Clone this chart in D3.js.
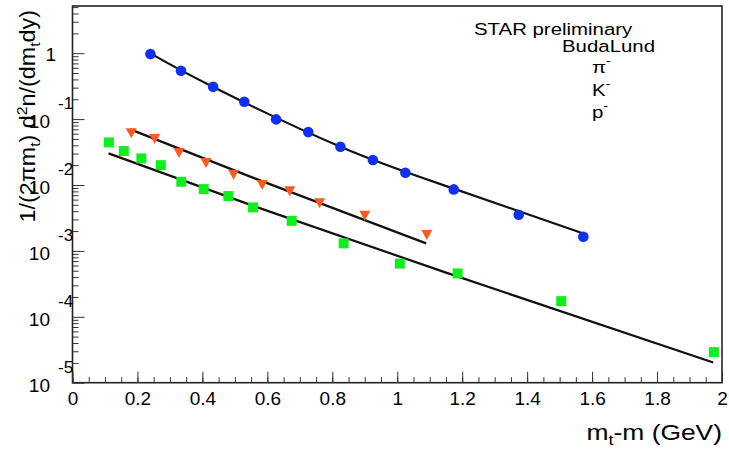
<!DOCTYPE html>
<html>
<head>
<meta charset="utf-8">
<script src="https://cdn.jsdelivr.net/npm/d3@7"></script>
<style>
  body { margin: 0; background: #fff; }
  svg { display: block; }
  text { font-family: "Liberation Sans", Arial, Helvetica, sans-serif; fill: #000; }
</style>
</head>
<body>
<div id="plothere"></div>
<script>
// pi- spectrum (blue circles)
var piX = [0.240, 0.334, 0.433, 0.529, 0.627, 0.726, 0.825, 0.925, 1.025, 1.174, 1.374, 1.573];
var piY = [0.97, 0.54, 0.31, 0.183, 0.099, 0.0635, 0.038, 0.0239, 0.0153, 0.00857, 0.00353, 0.00164];
// K- spectrum (orange triangles)
var kX = [0.181, 0.253, 0.328, 0.411, 0.496, 0.584, 0.669, 0.761, 0.900, 1.091];
var kY = [0.0619, 0.0509, 0.0312, 0.022, 0.0146, 0.0102, 0.00817, 0.00537, 0.00346, 0.00178];
// pbar spectrum (green squares)
var pX = [0.112, 0.158, 0.212, 0.272, 0.335, 0.404, 0.480, 0.556, 0.675, 0.835, 1.008, 1.186, 1.505, 1.975];
var pY = [0.0443, 0.0327, 0.0253, 0.020, 0.0112, 0.00867, 0.00679, 0.00457, 0.00286, 0.0013, 0.000641, 0.000456, 0.000173, 0.0000291];

// BudaLund fit curves
var piFitX = [0.240, 0.432, 0.825, 1.163, 1.573];
var piFitY = [0.993, 0.309, 0.038, 0.0092, 0.00184];
var kFitX = [0.178, 0.563, 1.089];
var kFitY = [0.0698, 0.0125, 0.0013];
var pFitX = [0.111, 0.563, 1.148, 1.973];
var pFitY = [0.0302, 0.0047, 0.000472, 0.0000202];

var xTicks = [0, 0.2, 0.4, 0.6, 0.8, 1, 1.2, 1.4, 1.6, 1.8, 2];
var xTickLabels = ["0", "0.2", "0.4", "0.6", "0.8", "1", "1.2", "1.4", "1.6", "1.8", "2"];
var yDecades = [-5, -4, -3, -2, -1, 0];
var legendLines = ["STAR preliminary", "BudaLund"];
var legendParticles = ["\u03c0", "K", "p"];

function zip(a, b) { return a.map(function(v, i) { return {x: v, y: b[i]}; }); }

var W = 729, H = 449;
var frame = {left: 72.5, right: 722, top: 6, bottom: 382.7};

var svg = d3.select("#plothere").append("svg")
  .attr("width", W).attr("height", H);

var x = d3.scaleLinear().domain([0, 2]).range([frame.left, frame.right]);
var y = d3.scaleLog().domain([1e-5, 5.2]).range([frame.bottom, frame.top]);

// frame
svg.append("rect")
  .attr("x", frame.left).attr("y", frame.top)
  .attr("width", frame.right - frame.left).attr("height", frame.bottom - frame.top)
  .attr("fill", "none").attr("stroke", "#222").attr("stroke-width", 1.6);

// x axis ticks (pointing up, inside)
var minorX = d3.range(0, 2.0001, 0.05);
svg.append("g")
  .attr("transform", "translate(0," + frame.bottom + ")")
  .call(d3.axisBottom(x).tickValues(minorX).tickSizeInner(-5.5).tickSizeOuter(0).tickFormat(""))
  .call(function(g) { g.select(".domain").remove(); g.selectAll("line").attr("stroke", "#333"); });
svg.append("g")
  .attr("transform", "translate(0," + frame.bottom + ")")
  .call(d3.axisBottom(x).tickValues(xTicks).tickSizeInner(-11).tickSizeOuter(0).tickPadding(9)
    .tickFormat(function(d, i) { return xTickLabels[i]; }))
  .call(function(g) {
    g.select(".domain").remove();
    g.selectAll("line").attr("stroke", "#333");
    g.selectAll("text").attr("font-size", 19).attr("font-family", null).style("fill", "#000");
  });

// y axis ticks (pointing right, inside)
var minorY = [];
for (var e = -5; e <= 0; e++) {
  for (var k = 2; k <= 9; k++) {
    var v = k * Math.pow(10, e);
    if (v <= 5.2) minorY.push(v);
  }
}
var majorY = yDecades.map(function(e) { return Math.pow(10, e); });
svg.append("g")
  .attr("transform", "translate(" + frame.left + ",0)")
  .call(d3.axisRight(y).tickValues(minorY).tickSizeInner(6).tickSizeOuter(0).tickFormat(""))
  .call(function(g) { g.select(".domain").remove(); g.selectAll("line").attr("stroke", "#333"); });
svg.append("g")
  .attr("transform", "translate(" + frame.left + ",0)")
  .call(d3.axisRight(y).tickValues(majorY).tickSizeInner(12).tickSizeOuter(0).tickFormat(""))
  .call(function(g) { g.select(".domain").remove(); g.selectAll("line").attr("stroke", "#333"); });

// y labels, ROOT style: "10" with the exponent lifted above it
var ylab = svg.append("g").attr("font-size", 19);
yDecades.forEach(function(e) {
  var py = y(Math.pow(10, e));
  if (e === 0) {
    ylab.append("text").attr("x", 56).attr("y", py + 8).attr("text-anchor", "end").text("1");
  } else {
    ylab.append("text").attr("x", 50).attr("y", py + 9).attr("text-anchor", "end").text("10");
    ylab.append("text").attr("x", 58).attr("y", py - 10).attr("font-size", 17).text(String(e));
  }
});

// axis titles
var yt = svg.append("text")
  .attr("transform", "translate(35,10) rotate(-90) scale(1.06,1)")
  .attr("text-anchor", "end").attr("font-size", 22);
yt.append("tspan").text("1/(2\u03c0m");
yt.append("tspan").attr("font-size", 15).attr("dy", 5).text("t");
yt.append("tspan").attr("dy", -5).text(") d");
yt.append("tspan").attr("font-size", 15).attr("dy", -8).text("2");
yt.append("tspan").attr("dy", 8).text("n/(dm");
yt.append("tspan").attr("font-size", 15).attr("dy", 5).text("t");
yt.append("tspan").attr("dy", -5).text("dy)");

var xt = svg.append("text")
  .attr("transform", "translate(722,440) scale(1.2,1)")
  .attr("text-anchor", "end").attr("font-size", 22);
xt.append("tspan").text("m");
xt.append("tspan").attr("font-size", 15).attr("dy", 5).text("t");
xt.append("tspan").attr("dy", -5).text("-m (GeV)");

// legend text
var lg = svg.append("g").attr("font-size", 17);
lg.append("text").attr("transform", "translate(474,35) scale(1.2,1)").text(legendLines[0]);
lg.append("text").attr("transform", "translate(655,52) scale(1.2,1)").attr("text-anchor", "end").text(legendLines[1]);
legendParticles.forEach(function(s, i) {
  var t = lg.append("text").attr("transform", "translate(592," + (73 + i * 22.5) + ") scale(1.2,1)");
  t.append("tspan").text(s);
  t.append("tspan").attr("font-size", 12).attr("dy", -8).text("-");
});

// fit curves
var line = d3.line()
  .x(function(d) { return x(d.x); })
  .y(function(d) { return y(d.y); })
  .curve(d3.curveNatural);
[[piFitX, piFitY], [kFitX, kFitY], [pFitX, pFitY]].forEach(function(f) {
  svg.append("path")
    .attr("d", line(zip(f[0], f[1])))
    .attr("fill", "none").attr("stroke", "#111").attr("stroke-width", 2.2);
});

// markers
svg.append("g").selectAll("circle")
  .data(zip(piX, piY)).enter().append("circle")
  .attr("cx", function(d) { return x(d.x); })
  .attr("cy", function(d) { return y(d.y); })
  .attr("r", 5.3).style("fill", "#1030f0");

svg.append("g").selectAll("path")
  .data(zip(kX, kY)).enter().append("path")
  .attr("transform", function(d) { return "translate(" + x(d.x) + "," + y(d.y) + ")"; })
  .attr("d", "M-5.5,-4.5L5.5,-4.5L0,5.5Z")
  .style("fill", "#ff5a1e");

svg.append("g").selectAll("rect")
  .data(zip(pX, pY)).enter().append("rect")
  .attr("x", function(d) { return x(d.x) - 5; })
  .attr("y", function(d) { return y(d.y) - 5; })
  .attr("width", 10).attr("height", 10)
  .style("fill", "#10ee20");
</script>
</body>
</html>
